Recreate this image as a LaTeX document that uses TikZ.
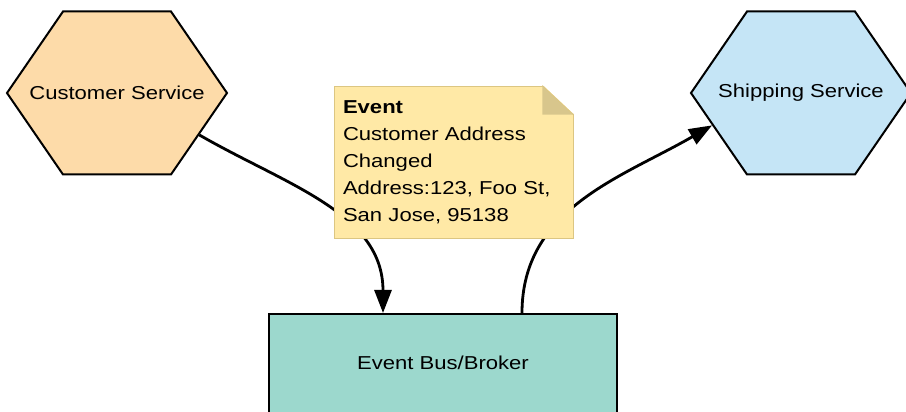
\documentclass[tikz,border=0pt]{standalone}
\usepackage{fontspec}
\setmainfont{Liberation Sans}[FakeStretch=1.18]
\usetikzlibrary{shapes.symbols,arrows.meta}
\definecolor{custorange}{HTML}{FDDBA9}
\definecolor{shipblue}{HTML}{C5E5F6}
\definecolor{busteal}{HTML}{9CD8CD}
\definecolor{noteyellow}{HTML}{FFE9A6}
\definecolor{notebord}{HTML}{DCC682}
\definecolor{foldtan}{HTML}{D8C68C}
\newcommand{\hexlabel}[1]{\makebox[0pt]{#1}}
\begin{document}
\begin{tikzpicture}[x=1pt, y=1pt,
  svc/.style={signal, signal to=west and east, signal pointer angle=111,
              draw, line width=2pt, minimum width=220pt, minimum height=163pt,
              inner sep=0pt, font=\fontsize{18.7}{22}\selectfont},
  bus/.style={draw, line width=2pt, fill=busteal, minimum width=348pt,
              minimum height=120pt, text height=13.5pt, text depth=22pt,
              font=\fontsize{18.7}{22}\selectfont},
  note/.style={draw=notebord, fill=noteyellow, line width=0.8pt,
               minimum width=239pt, minimum height=152pt, text width=221pt,
               inner xsep=9pt, align=left, font=\fontsize{18.7}{27}\selectfont},
  flow/.style={-{Triangle[length=23pt,width=17pt]}, line width=2.8pt}
]
\useasboundingbox (0,0) rectangle (906,412);
\clip (0,0) rectangle (906,412);

% services
\node[svc, fill=custorange] (cust) at (117,319) {\hexlabel{Customer Service}};
\node[svc, fill=shipblue]   (ship) at (801,319) {\hexlabel{Shipping Service}};

% event bus
\node[bus, anchor=north] (bus) at (443,99) {Event Bus/Broker};
\coordinate (busin)  at ([xshift=115pt]bus.north west);
\coordinate (busout) at ([xshift=254pt]bus.north west);

% arrows (under the note)
\draw[flow] (cust.-27) to[out=-30, in=90] (busin);
\draw[flow] (busout) to[out=90, in=210] (ship.200);

% event note
\node[note] (evt) at (453.5,250) {\textbf{Event}\\Customer Address\\Changed\\Address:123, Foo St,\\San Jose, 95138};
\fill[white] ([xshift=-31pt,yshift=1pt]evt.north east) -| ([xshift=1pt,yshift=-29pt]evt.north east) -- cycle;
\fill[foldtan] ([xshift=-31pt]evt.north east) |- ([yshift=-29pt]evt.north east) -- cycle;
\draw[notebord, line width=0.8pt] ([xshift=-31pt]evt.north east) -- ([yshift=-29pt]evt.north east);

\end{tikzpicture}
\end{document}
